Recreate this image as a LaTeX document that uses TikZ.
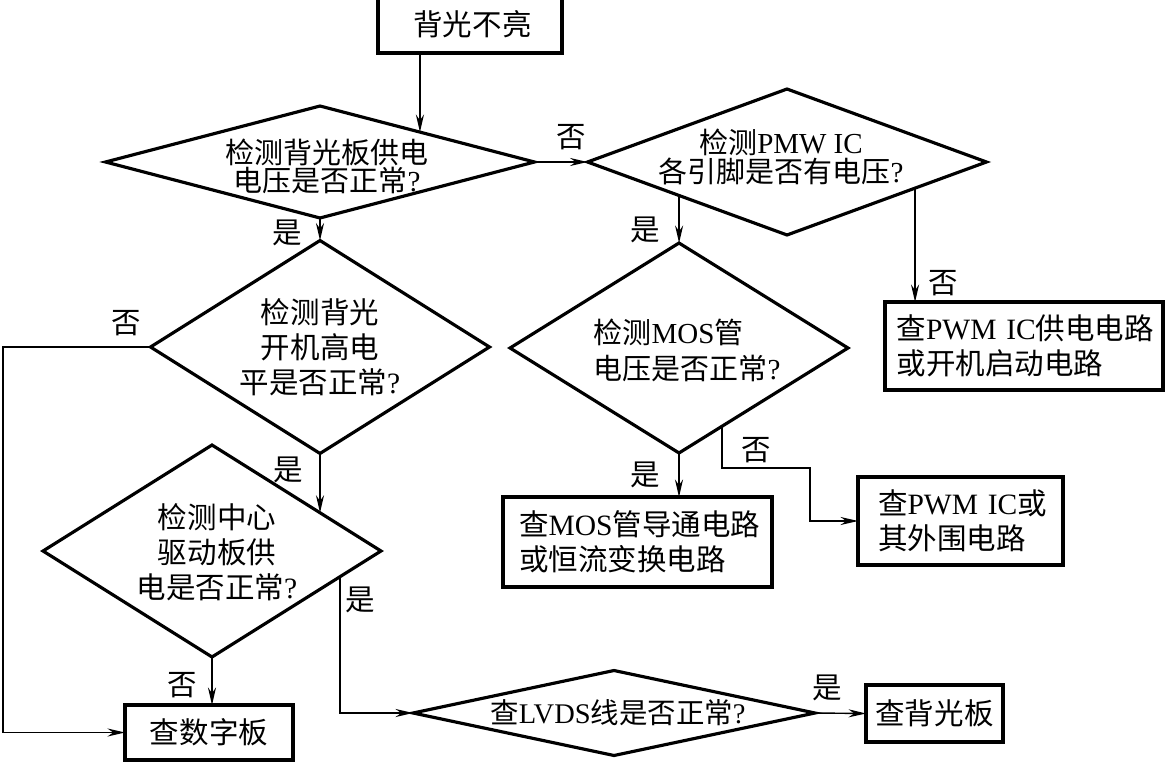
\documentclass[tikz,border=0pt]{standalone}
\usepackage{fontspec}
\setmainfont{Liberation Serif}
\newfontfamily\cjk{Noto Sans CJK SC}
\usetikzlibrary{shapes.geometric,arrows.meta,calc}
\begin{document}
\begin{tikzpicture}[x=0.02cm,y=-0.02cm,
  every node/.style={font=\cjk\fontsize{16.8}{20}\selectfont},
  box/.style={draw,line width=1.8pt,inner sep=0pt,outer sep=0pt},
  lbox/.style={box,align=left,inner ysep=0pt},
  dia/.style={draw,shape=diamond,line width=1.8pt,inner sep=0pt,outer sep=0pt},
  txt/.style={align=center,inner sep=0pt},
  lab/.style={inner sep=0pt},
  arr/.style={line width=0.8pt,-{Stealth[length=10pt,width=4.6pt,inset=3.3pt]}}]
\useasboundingbox (0,0) rectangle (1165,763);

% boxes
\node[box,minimum width=3.68cm,minimum height=1.16cm] (start) at (470,24) {\hspace*{0.1cm}背光不亮};
\node[lbox,text width=5.1cm,inner xsep=0.23cm,minimum height=1.76cm] (b1) at (1024,346)
  {查{\rmfamily PWM~IC}供电电路\\或开机启动电路};
\node[lbox,text width=4.74cm,inner xsep=0.32cm,minimum height=1.8cm] (b2) at (637.5,542)
  {查{\rmfamily MOS}管导通电路\\或恒流变换电路};
\node[lbox,text width=3.3cm,inner xsep=0.4cm,minimum height=1.76cm] (b3) at (960.5,521)
  {查{\rmfamily PWM~IC}或\\其外围电路};
\node[box,minimum width=3.36cm,minimum height=1.1cm] (b5) at (209,732.5) {查数字板};
\node[box,minimum width=2.74cm,minimum height=1.14cm] (b6) at (934.5,713.5) {查背光板};

% diamonds
\node[dia,minimum width=8.58cm,minimum height=2.24cm] (d1) at (320,162) {};
\node[txt,font=\cjk\fontsize{16.5}{16}\selectfont] (t1) at (327,166)
  {检测背光板供电\\电压是否正常{\rmfamily ?}};
\node[dia,minimum width=7.98cm,minimum height=2.92cm] (d3) at (787,162) {};
\node[txt,font=\cjk\fontsize{16.5}{17}\selectfont] (t3) at (781,157)
  {检测{\rmfamily PMW~IC}\\各引脚是否有电压{\rmfamily ?}};
\node[dia,minimum width=6.78cm,minimum height=4.26cm] (d2) at (320,347) {};
\node[txt] (t2) at (320,347) {检测背光\\开机高电\\平是否正常{\rmfamily ?}};
\node[dia,minimum width=6.76cm,minimum height=4.24cm] (d6) at (212,551) {};
\node[txt] (t6) at (217,552) {检测中心\\驱动板供\\电是否正常{\rmfamily ?}};
\node[dia,minimum width=6.76cm,minimum height=4.2cm] (d4) at (679,348) {};
\node[txt,align=left,font=\cjk\fontsize{16.5}{20.5}\selectfont] (t4) at (687,350)
  {检测{\rmfamily MOS}管\\电压是否正常{\rmfamily ?}};
\node[dia,minimum width=8.04cm,minimum height=1.7cm] (d5) at (614,713) {};
\node[txt,font=\cjk\fontsize{16.2}{20}\selectfont] (t5) at (618,713) {查{\rmfamily LVDS}线是否正常{\rmfamily ?}};

% labels
\node[lab] (l1) at (571,137) {否};
\node[lab] (l2) at (287,233) {是};
\node[lab] (l3) at (126,323) {否};
\node[lab] (l4) at (288,470) {是};
\node[lab] (l5) at (360,600) {是};
\node[lab] (l6) at (182,685) {否};
\node[lab] (l7) at (827,688) {是};
\node[lab] (l8) at (645,230) {是};
\node[lab] (l9) at (943,283) {否};
\node[lab] (l10) at (645,475) {是};
\node[lab] (l11) at (756,450) {否};

% connectors
\coordinate (a1) at ($(d1.north)!0.466!(d1.east)$);
\draw[arr] (start.south -| a1) -- (a1);
\draw[arr] (d1.east) -- (d3.west);
\draw[arr] (d1.south) -- (d2.north);
\coordinate (c3) at (3,347);
\draw[arr] (d2.west) -- (c3) |- (b5.west);
\coordinate (a5) at ($(d6.north)!0.639!(d6.east)$);
\draw[arr] (d2.south) -- (d2.south |- a5);
\draw[arr] (d6.south) -- (d6.south |- b5.north);
\coordinate (a7) at ($(d6.east)!0.243!(d6.south)$);
\draw[arr] (a7) |- (d5.west);
\draw[arr] (d5.east) -- (b6.west);
\coordinate (a9) at ($(d3.west)!0.459!(d3.south)$);
\draw[arr] (a9) -- (a9 |- d4.north);
\coordinate (a10) at ($(d3.south)!0.642!(d3.east)$);
\draw[arr] (a10) -- (a10 |- b1.north);
\draw[arr] (d4.south) -- (d4.south |- b2.north);
\coordinate (a12) at ($(d4.south)!0.254!(d4.east)$);
\coordinate (c12) at (810,468);
\draw[arr] (a12) |- (c12) |- (b3.west);
\end{tikzpicture}
\end{document}
